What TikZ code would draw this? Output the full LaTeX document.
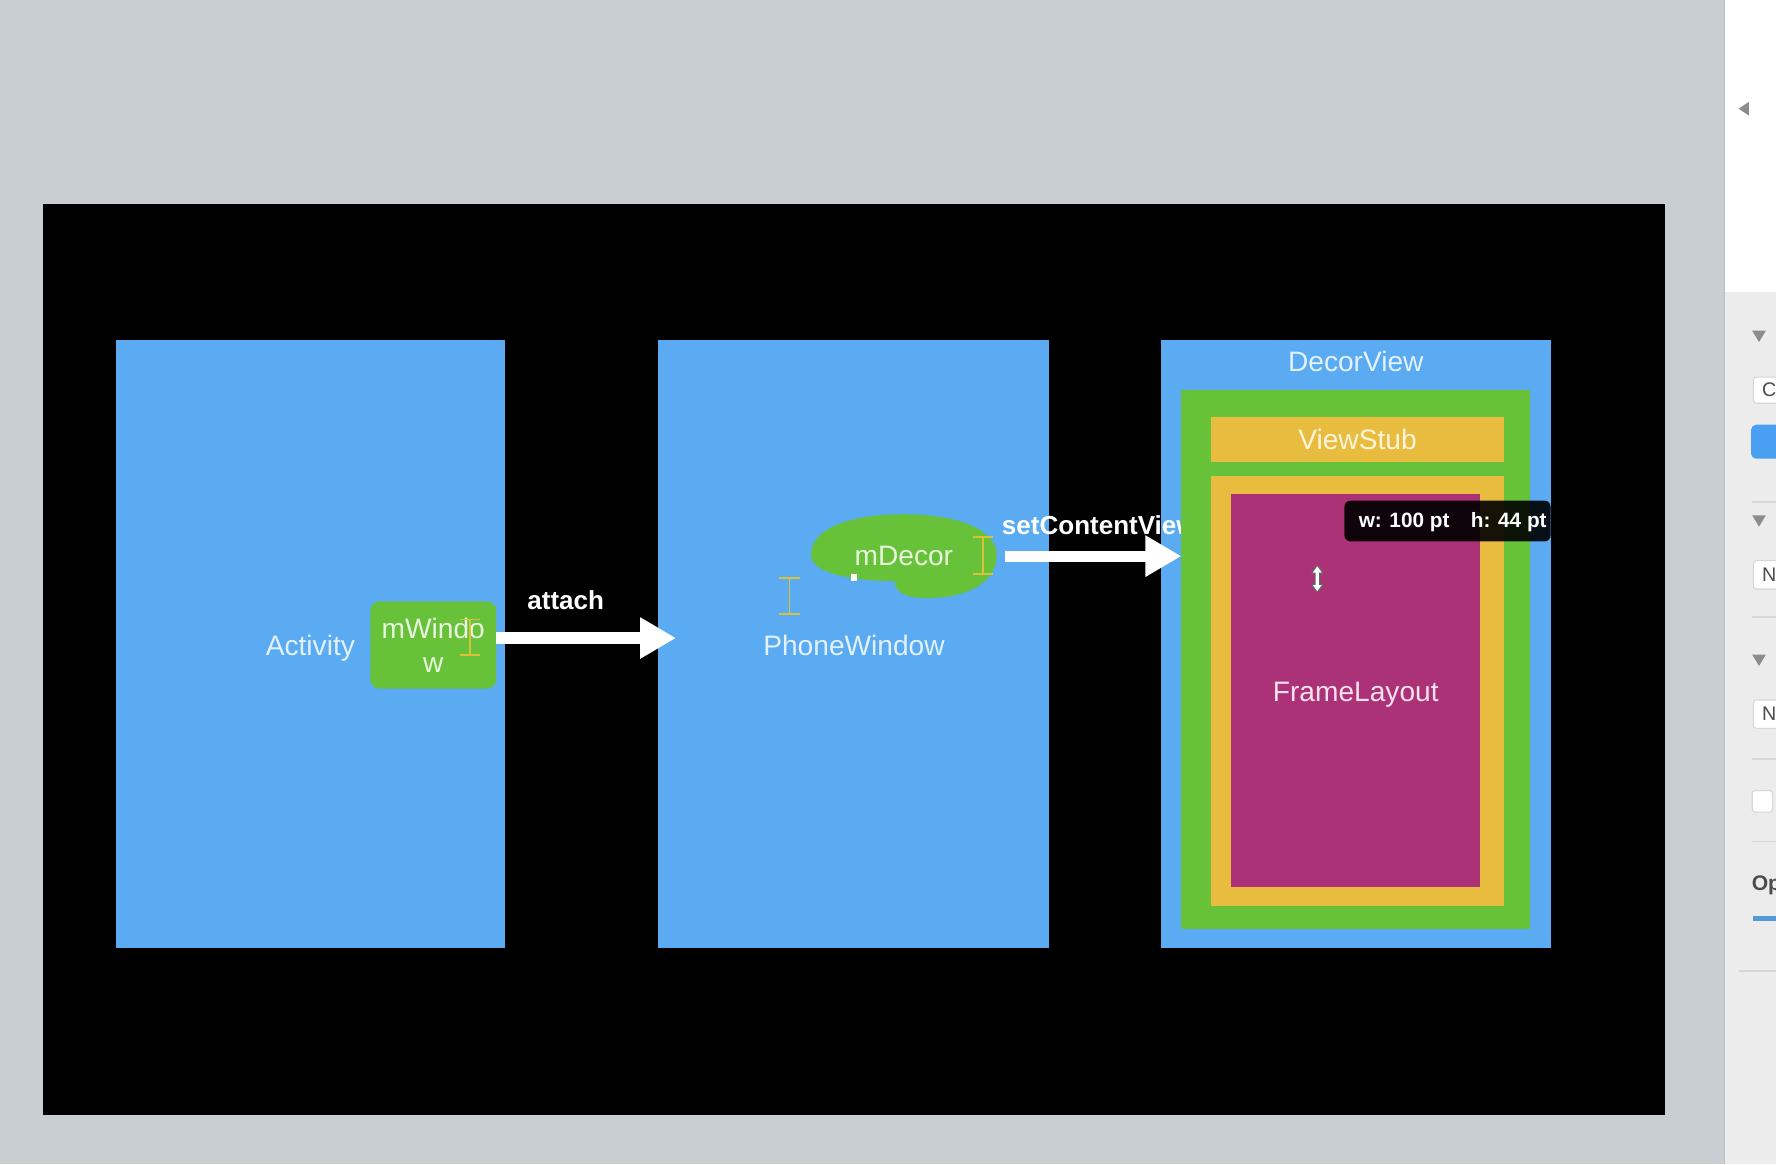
\documentclass[tikz,border=0pt]{standalone}
\usepackage{fontspec}
\setmainfont{Liberation Sans}
\usetikzlibrary{positioning,fit,arrows.meta}
\definecolor{bg}{HTML}{C9CED3}
\definecolor{blu}{HTML}{5AABF2}
\definecolor{grn}{HTML}{67C23A}
\definecolor{ylw}{HTML}{E8BD3F}
\definecolor{mgt}{HTML}{AC3277}
\definecolor{txtb}{HTML}{E3F1FD}
\definecolor{txtg}{HTML}{E8F6DE}
\definecolor{txty}{HTML}{FFF4DA}
\definecolor{txtm}{HTML}{F6E1EC}
\definecolor{ibeam}{HTML}{D9C23A}
\definecolor{pnl}{HTML}{ECECEC}
\definecolor{sepl}{HTML}{D6D6D6}
\definecolor{pblue}{HTML}{4A9FF2}
\begin{document}
\begin{tikzpicture}[x=0.011327cm,y=-0.011327cm,
		box/.style={fill=#1,inner sep=0pt,outer sep=0pt},
		lbl/.style={text=#1,font=\fontsize{8}{9.6}\selectfont,inner sep=0pt,align=center,text depth=0pt},
		alb/.style={text=white,font=\bfseries\fontsize{7.4}{8.8}\selectfont,inner sep=0pt},
		ttl/.style={text=white,font=\bfseries\fontsize{5.9}{7}\selectfont,inner sep=0pt,anchor=west},
		arr/.style={white,line width=3.2pt,-{Triangle[length=0.36cm,width=0.39cm]}},
		beam/.style={ibeam,line width=0.5pt},
		fld/.style={fill=white,draw=sepl,line width=0.3pt,rounded corners=0.03cm},
		ptx/.style={text=black!70,font=\fontsize{5.6}{6.5}\selectfont,inner sep=0pt,anchor=west}]
	\fill[bg] (0,0) rectangle (1522,1028);
	\path[use as bounding box] (0,0) rectangle (1568,1028);
	\node[box=black,fit={(38,180) (1470,984)}] (frame) {};
	%
	\node[box=blu,fit={(102,300) (446,837)}] (act) {};
	\node[box=blu,fit={(581,300) (926,837)}] (pw) {};
	\node[box=blu,fit={(1025,300) (1369,837)}] (dv) {};
	\node[lbl=txtb] (actl) at (274,570) {Activity};
	\node[lbl=txtb] (pwl) at (754,570) {PhoneWindow};
	\node[lbl=txtb] (dvl) at (dv.north |- 0,319) {DecorView};
	%
	\node[box=grn,rounded corners=0.09cm,fit={(327,531) (438,608)}] (mw) {};
	\node[lbl=txtg] (mwl) at (mw.center) {mWindo\\w};
	\draw[beam] (406,547) -- (424,547) (415,547) -- (415,578) (406,578) -- (424,578);
	\draw[arr,shorten >=-0.18cm] ([yshift=0.07cm]mw.east) -- node[alb,pos=0.43,above=0.23cm] (att) {attach} ([yshift=0.07cm]mw.east -| pw.west);
	%
	\fill[grn] (716,490) .. controls (716,466) and (752,454) .. (798,454)
		.. controls (846,454) and (880,468) .. (880,490)
		.. controls (880,512) and (858,528) .. (818,528)
		.. controls (798,528) and (790,522) .. (790,513)
		.. controls (760,513) and (716,508) .. (716,490) -- cycle;
	\node[inner sep=0pt,fit={(716,454) (880,528)}] (md) {};
	\node[lbl=txtg] (mdl) at (798,491) {mDecor};
	\fill[white] (751,507) rectangle (757,513);
	\draw[beam] (688,510) -- (706,510) (697,510) -- (697,542) (688,542) -- (706,542);
	\draw[beam] (859,474) -- (877,474) (868,474) -- (868,507) (859,507) -- (877,507);
	\node[alb,anchor=west] (scv) at (884,464) {setContentView};
	%
	\node[box=grn,fit={(1043,344) (1351,820)}] (gr) {};
	\node[box=ylw,fit={(1069,368) (1328,408)}] (vs) {};
	\node[lbl=txty] (vsl) at (vs.center) {ViewStub};
	\node[box=ylw,fit={(1069,420) (1328,800)}] (fy) {};
	\node[box=mgt,fit={(1087,436) (1307,783)}] (fl) {};
	\node[lbl=txtm] (fll) at (1197,611) {FrameLayout};
	\draw[arr,shorten <=0.08cm] (md.east) -- (md.east -| gr.west);
	%
	\node[box=black,fill opacity=0.9,rounded corners=0.06cm,fit={(1187,442) (1369,478)}] (tip) {};
	\node[ttl] (tw) at (1199,461) {w: 100 pt};
	\node[ttl] (th) at (1298,461) {h: 44 pt};
	\filldraw[fill=white,draw=black!60,line width=0.3pt] (1163,499) -- (1168,506) -- (1165,506) -- (1165,516) -- (1168,516) -- (1163,523) -- (1158,516) -- (1161,516) -- (1161,506) -- (1158,506) -- cycle;
	%
	\begin{scope}
		\clip (1522,0) rectangle (1568,1028);
		\fill[white] (1522,0) rectangle (1568,258);
		\fill[pnl] (1522,258) rectangle (1568,1028);
		\draw[black!25,line width=0.4pt] (1522,0) -- (1522,1028);
		\fill[black!45] (1535,96) -- (1544,90) -- (1544,102) -- cycle;
		\foreach \ty in {292,455,578}
			\fill[black!45] (1547,\ty) -- (1559,\ty) -- (1553,\ty+10) -- cycle;
		\filldraw[fld] (1548,333) rectangle (1590,356);
		\node[ptx] (pc) at (1555,344.5) {C};
		\fill[pblue,rounded corners=0.05cm] (1546,375) rectangle (1590,405);
		\filldraw[fld] (1548,495) rectangle (1590,520);
		\node[ptx] (pn1) at (1555,507.5) {N};
		\filldraw[fld] (1548,618) rectangle (1590,643);
		\node[ptx] (pn2) at (1555,630.5) {N};
		\filldraw[fld] (1547,698) rectangle (1565,717);
		\foreach \ly in {443,545,670,743}
			\draw[sepl,line width=0.5pt] (1547,\ly) -- (1568,\ly);
		\draw[sepl,line width=0.5pt] (1535,857) -- (1568,857);
		\node[ptx,font=\bfseries\fontsize{6}{7}\selectfont] (pop) at (1546,782) {Op};
		\draw[pblue!80!gray,line width=1.2pt] (1548,811) -- (1568,811);
	\end{scope}
\end{tikzpicture}
\end{document}
